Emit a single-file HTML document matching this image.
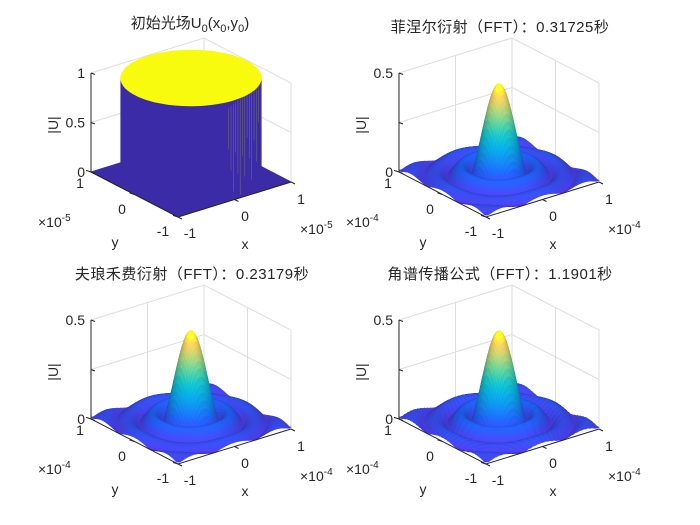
<!DOCTYPE html>
<html><head><meta charset="utf-8"><style>
html,body{margin:0;padding:0;background:#fff;}
svg{display:block}
text{font-family:"Liberation Sans","Noto Sans CJK SC",sans-serif;fill:#262626;}
</style></head><body>
<svg id="s" width="700" height="525" viewBox="0 0 700 525" xmlns="http://www.w3.org/2000/svg"></svg>
<script>
const S=document.getElementById('s');
let out='';
const stops=[[72,56,215],[30,90,228],[18,125,216],[7,156,207],[21,177,180],[89,189,140],[165,190,107],[225,185,82],[249,251,14]];
function parula(t){t=Math.max(0,Math.min(1,t));const f=t*8,i=Math.min(7,Math.floor(f)),u=f-i;const a=stops[i],b=stops[i+1];return [0,1,2].map(k=>a[k]+(b[k]-a[k])*u);}
function J1(x){let s=0,t=x/2,term=t;for(let k=0;k<30;k++){s+=term;term*=-(x*x/4)/((k+1)*(k+2));}return s;}
function jinc(x){return Math.abs(x)<1e-6?1:2*J1(x)/x;}
function P(ox,oy,x,y,z,zmax){return [ox+191+x*56.5-y*43.5, oy+177-x*17.5-y*22.5-99*z/zmax];}
function f2(p){return p[0].toFixed(1)+','+p[1].toFixed(1);}
function axes(ox,oy){
 const L=P(ox,oy,-1,1,0,1),F=P(ox,oy,-1,-1,0,1),R=P(ox,oy,1,-1,0,1),B=P(ox,oy,1,1,0,1);
 const g='stroke="#dedede" stroke-width="1" fill="none"';
 out+=`<path d="M${f2(L)}L${L[0]},${L[1]-99}L${B[0]},${B[1]-99}L${R[0]},${R[1]-99}L${f2(R)}" ${g}/>`;
 out+=`<path d="M${f2(B)}L${B[0]},${B[1]-99}M${f2(L)}L${f2(B)}L${f2(R)}" ${g}/>`;
 const mLB=P(ox,oy,0,1,0,1),mBR=P(ox,oy,1,0,0,1);
 out+=`<path d="M${f2(mLB)}L${mLB[0]},${mLB[1]-99}M${f2(mBR)}L${mBR[0]},${mBR[1]-99}M${L[0]},${L[1]-49.5}L${B[0]},${B[1]-49.5}L${R[0]},${R[1]-49.5}" ${g}/>`;
 return {L,F,R,B};
}
function axesFront(ox,oy,zt,exp,title,c){
 const {L,F,R}=c;const k='stroke="#262626" stroke-width="1" fill="none"';
 out+=`<path d="M${L[0]},${L[1]-99}L${f2(L)}L${f2(F)}L${f2(R)}" ${k}/>`;
 let tk='';
 for(const z of [0,0.5,1]){tk+=`M${L[0]},${L[1]-99*z}l4,1.5`;}
 for(const y of [1,0,-1]){const p=P(ox,oy,-1,y,0,1);tk+=`M${f2(p)}l-5,-1.6`;}
 for(const x of [-1,0,1]){const p=P(ox,oy,x,-1,0,1);tk+=`M${f2(p)}l4,2`;}
 out+=`<path d="${tk}" ${k}/>`;
 [0,0.5,1].forEach((z,i)=>{out+=`<text x="${L[0]-6}" y="${L[1]-99*z+5}" font-size="14" text-anchor="end">${zt[i]}</text>`;});
 out+=`<text transform="translate(${L[0]-33},${oy+125}) rotate(-90)" font-size="14" text-anchor="middle">|U|</text>`;
 [[1,80,188],[0,122,214],[-1,163,236]].forEach(a=>{out+=`<text x="${ox+a[1]}" y="${oy+a[2]}" font-size="14" text-anchor="middle">${a[0]}</text>`;});
 [[-1,190,238],[0,245,221],[1,301,204]].forEach(a=>{out+=`<text x="${ox+a[1]}" y="${oy+a[2]}" font-size="14" text-anchor="middle">${a[0]}</text>`;});
 out+=`<text x="${ox+245}" y="${oy+249}" font-size="14" text-anchor="middle">x</text>`;
 out+=`<text x="${ox+115}" y="${oy+247}" font-size="14" text-anchor="middle">y</text>`;
 out+=`<text x="${ox+38}" y="${oy+227}" font-size="14">×10<tspan dy="-6" font-size="10">${exp}</tspan></text>`;
 out+=`<text x="${ox+300}" y="${oy+234}" font-size="14">×10<tspan dy="-6" font-size="10">${exp}</tspan></text>`;
 out+=title;
}
function surf(ox,oy,noise){
 const N=84,zmax=0.5,a=9.6,A=0.47;
 const fz=(x,y)=>{const r=Math.hypot(x,y);let v=A*Math.abs(jinc(a*r));v+=0.004*(Math.cos(7*x)+Math.cos(7*y))*Math.min(1,r);if(noise){v+=0.001*Math.sin(97*x*y+13*x)*Math.min(1,r*1.3);}return Math.max(0,v);};
 const h=2/N;const Z=[];for(let i=0;i<=N;i++){Z[i]=[];for(let j=0;j<=N;j++)Z[i][j]=fz(-1+i*h,-1+j*h);}
 const q=[];
 const l=[-0.5,-0.7,0.6],ln=Math.hypot(...l);
 for(let i=0;i<N;i++)for(let j=0;j<N;j++){
  const x=-1+(i+.5)*h,y=-1+(j+.5)*h;
  const zc=(Z[i][j]+Z[i+1][j]+Z[i][j+1]+Z[i+1][j+1])/4;
  const sc=1.6/zmax;
  const dx=((Z[i+1][j]+Z[i+1][j+1])-(Z[i][j]+Z[i][j+1]))/2/h*sc;
  const dy=((Z[i][j+1]+Z[i+1][j+1])-(Z[i][j]+Z[i+1][j]))/2/h*sc;
  const nn=Math.hypot(dx,dy,1);const nd=(-dx*l[0]-dy*l[1]+l[2])/nn/ln;
  const fac=0.78+0.4*Math.max(0,nd);
  const c=parula(zc/0.47).map(v=>Math.round(Math.min(255,v*fac)));
  const pts=[P(ox,oy,x-h/2,y-h/2,Z[i][j],zmax),P(ox,oy,x+h/2,y-h/2,Z[i+1][j],zmax),P(ox,oy,x+h/2,y+h/2,Z[i+1][j+1],zmax),P(ox,oy,x-h/2,y+h/2,Z[i][j+1],zmax)];
  q.push([x*0.61+y*0.79,pts,`rgb(${c})`]);
 }
 q.sort((u,v)=>v[0]-u[0]);
 for(const e of q){out+=`<path d="M${e[1].map(f2).join('L')}Z" fill="${e[2]}" stroke="${e[2]}" stroke-width="0.6"/>`;}
}
function cyl(ox,oy){
 const c=axes(ox,oy);
 const col='#3c2ba6';
 out+=`<path d="M${f2(c.L)}L${f2(c.F)}L${f2(c.R)}L${f2(c.B)}Z" fill="${col}" stroke="${col}"/>`;
 const r=0.99;let bot=[],top=[];
 for(let k=0;k<=120;k++){const t=k/120*2*Math.PI;bot.push(P(ox,oy,r*Math.cos(t),r*Math.sin(t),0,1));top.push(P(ox,oy,r*Math.cos(t),r*Math.sin(t),1,1));}
 let mn=bot[0],mx=bot[0];for(const p of bot){if(p[0]<mn[0])mn=p;if(p[0]>mx[0])mx=p;}
 out+=`<path d="M${bot.map(f2).join('L')}Z" fill="${col}"/>`;
 out+=`<path d="M${f2(mn)}L${mn[0]},${mn[1]-99}L${mx[0]},${mx[1]-99}L${f2(mx)}Z" fill="${col}"/>`;
 let st='';for(let k=0;k<14;k++){const x=mx[0]-3-k*2.3;st+=`M${x.toFixed(1)},${mx[1]-95+k*2}l0,${40+(k*37)%60}`;}
 out+=`<path d="${st}" stroke="#8c8a60" stroke-width="0.6" opacity="0.6"/>`;
 out+=`<path d="M${top.map(f2).join('L')}Z" fill="#f9fb0e"/>`;
 axesFront(ox,oy,['0','0.5','1'],'-5',`<text x="${ox+190}" y="${oy+28}" font-size="15" text-anchor="middle">初始光场U<tspan dy="4" font-size="11">0</tspan><tspan dy="-4">(x</tspan><tspan dy="4" font-size="11">0</tspan><tspan dy="-4">,y</tspan><tspan dy="4" font-size="11">0</tspan><tspan dy="-4">)</tspan></text>`,c);
}
function panel(ox,oy,title,noise){
 const c=axes(ox,oy);surf(ox,oy,noise);
 axesFront(ox,oy,['0','','0.5'],'-4',`<text x="${ox+192}" y="${oy+32}" font-size="15" letter-spacing="0.5" text-anchor="middle">${title}</text>`,c);
}
cyl(0,0);
panel(308,0,'菲涅尔衍射（FFT）：0.31725秒',false);
panel(0,247,'夫琅禾费衍射（FFT）：0.23179秒',false);
panel(308,247,'角谱传播公式（FFT）：1.1901秒',true);
S.innerHTML=out;
</script>
</body></html>
